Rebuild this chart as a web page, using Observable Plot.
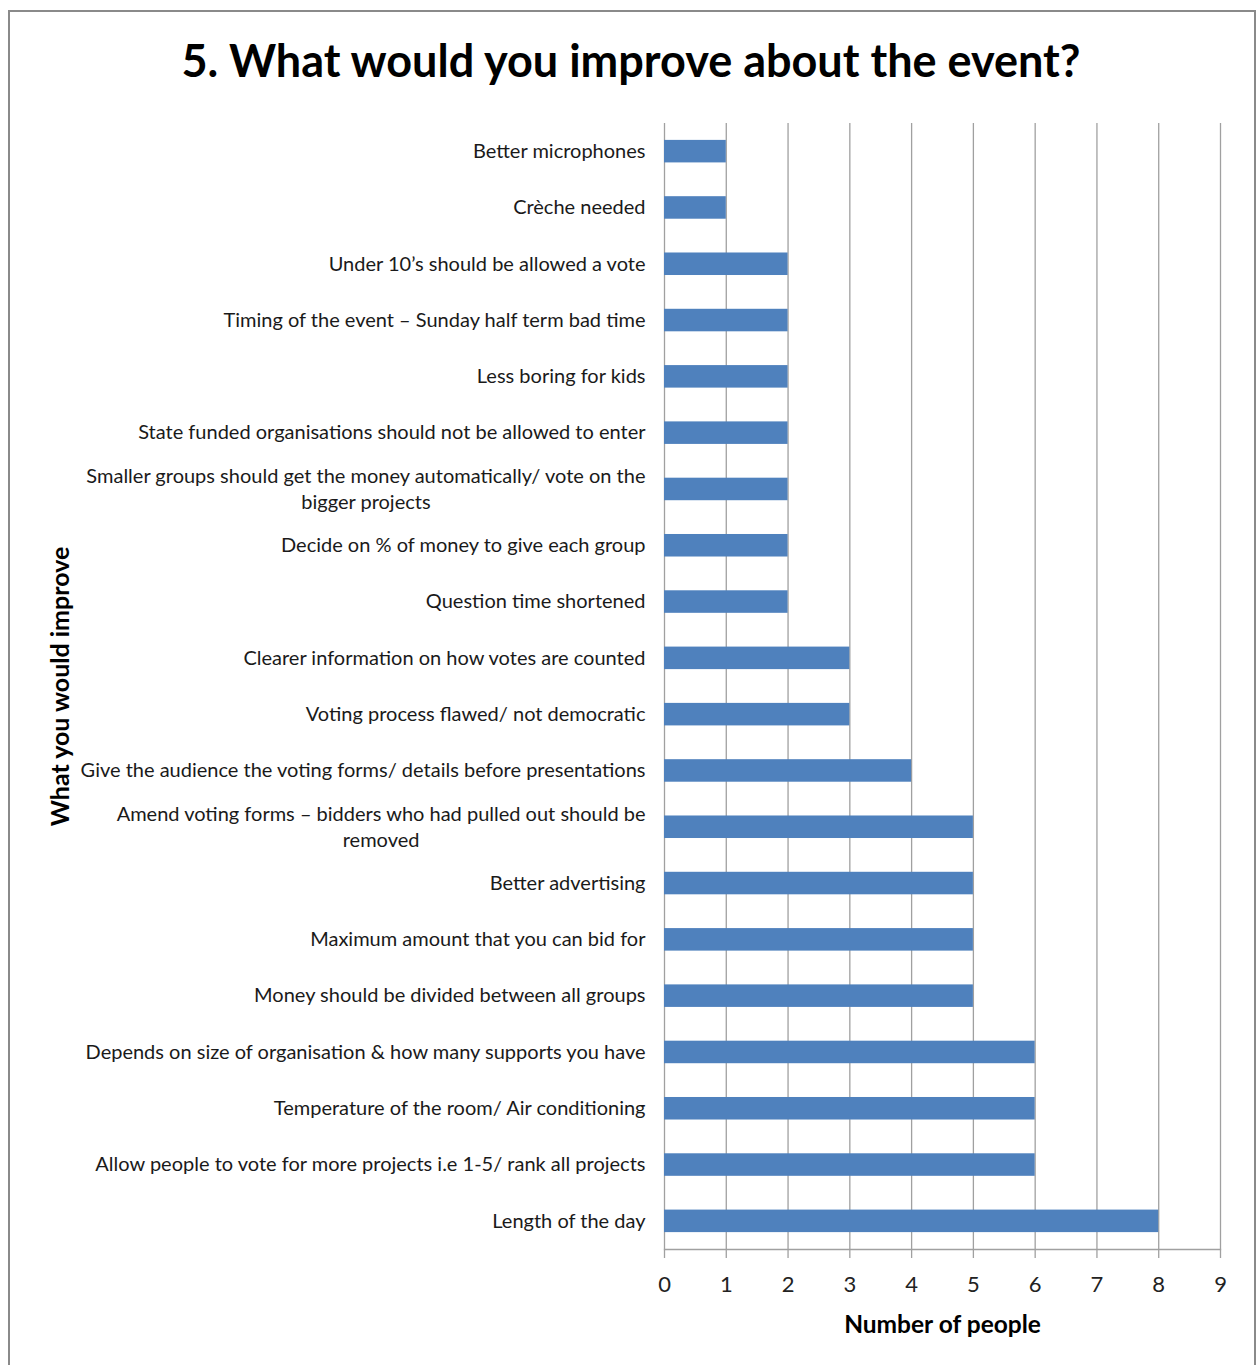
<!DOCTYPE html>
<html>
<head>
<meta charset="utf-8">
<script src="https://cdn.jsdelivr.net/npm/d3@7"></script>
<script src="https://cdn.jsdelivr.net/npm/@observablehq/plot@0.6"></script>
<style>
  html, body { margin: 0; padding: 0; background: #fff; width: 1257px; height: 1365px; overflow: hidden; }
  #frame { position: absolute; left: 8px; top: 10px; width: 1248px; height: 1400px; border: 2px solid #8a8a8a; box-sizing: border-box; z-index: 5; pointer-events: none; }
  #title { position: absolute; left: 0; top: 33px; width: 1262px; text-align: center; font-family: Lato, sans-serif; font-weight: bold; font-size: 45px; color: #000; }
  #chart { position: absolute; left: 0; top: 100px; }
</style>
</head>
<body>
<div id="title">5. What would you improve about the event?</div>
<div id="chart"></div>
<div id="frame"></div>
<script>
const categories = [
  "Better microphones",
  "Crèche needed",
  "Under 10’s should be allowed a vote",
  "Timing of the event – Sunday half term bad time",
  "Less boring for kids",
  "State funded organisations should not be allowed to enter",
  "Smaller groups should get the money automatically/ vote on the\nbigger projects",
  "Decide on % of money to give each group",
  "Question time shortened",
  "Clearer information on how votes are counted",
  "Voting process flawed/ not democratic",
  "Give the audience the voting forms/ details before presentations",
  "Amend voting forms – bidders who had pulled out should be\nremoved",
  "Better advertising",
  "Maximum amount that you can bid for",
  "Money should be divided between all groups",
  "Depends on size of organisation & how many supports you have",
  "Temperature of the room/ Air conditioning",
  "Allow people to vote for more projects i.e 1-5/ rank all projects",
  "Length of the day"
];
const counts = [1, 1, 2, 2, 2, 2, 2, 2, 2, 3, 3, 4, 5, 5, 5, 5, 6, 6, 6, 8];
const xTicks = [0, 1, 2, 3, 4, 5, 6, 7, 8, 9];
const xLabel = "Number of people";
const yLabel = "What you would improve";

const data = categories.map((c, i) => ({category: c, count: counts[i]}));

const chart = Plot.plot({
  width: 1257,
  height: 1265,
  marginLeft: 664,
  marginRight: 37,
  marginTop: 23,
  marginBottom: 116,
  style: {fontFamily: "Lato, sans-serif", background: "transparent"},
  x: {domain: [0, 9], ticks: xTicks},
  y: {domain: categories, paddingInner: 0.6, paddingOuter: 0.3, round: false},
  marks: [
    Plot.gridX(xTicks, {stroke: "#a0a0a0", strokeOpacity: 1, strokeWidth: 1.3}),
    Plot.barX(data, {y: "category", x: "count", fill: "#4f81bd"}),
    Plot.frame({anchor: "bottom", stroke: "#a0a0a0", strokeWidth: 1.3}),
    Plot.axisX({ticks: xTicks, tickSize: 9, tickPadding: 18, fontSize: 22, label: null, stroke: "#a0a0a0", strokeWidth: 1.3, color: "#222"}),
    Plot.axisY({tickSize: 0, tickPadding: 19, dy: -2, fontSize: 20, label: null, lineHeight: 1.3, color: "#1a1a1a", textOverflow: null}),
    Plot.text([yLabel], {frameAnchor: "left", textAnchor: "middle", dx: -604, rotate: -90, fontSize: 25, fontWeight: "bold", fill: "#000"}),
    Plot.text([xLabel], {frameAnchor: "bottom", dy: 83, fontSize: 24.5, fontWeight: "bold", fill: "#000"})
  ]
});
document.getElementById("chart").appendChild(chart);

// center-align the lines of wrapped category labels within their block
d3.select(chart).selectAll('g[aria-label="y-axis tick label"] text').each(function () {
  const tspans = this.querySelectorAll("tspan");
  if (tspans.length > 1) {
    const w = this.getBBox().width;
    this.setAttribute("text-anchor", "middle");
    tspans.forEach(t => t.setAttribute("x", -w / 2));
  }
});
</script>
</body>
</html>
